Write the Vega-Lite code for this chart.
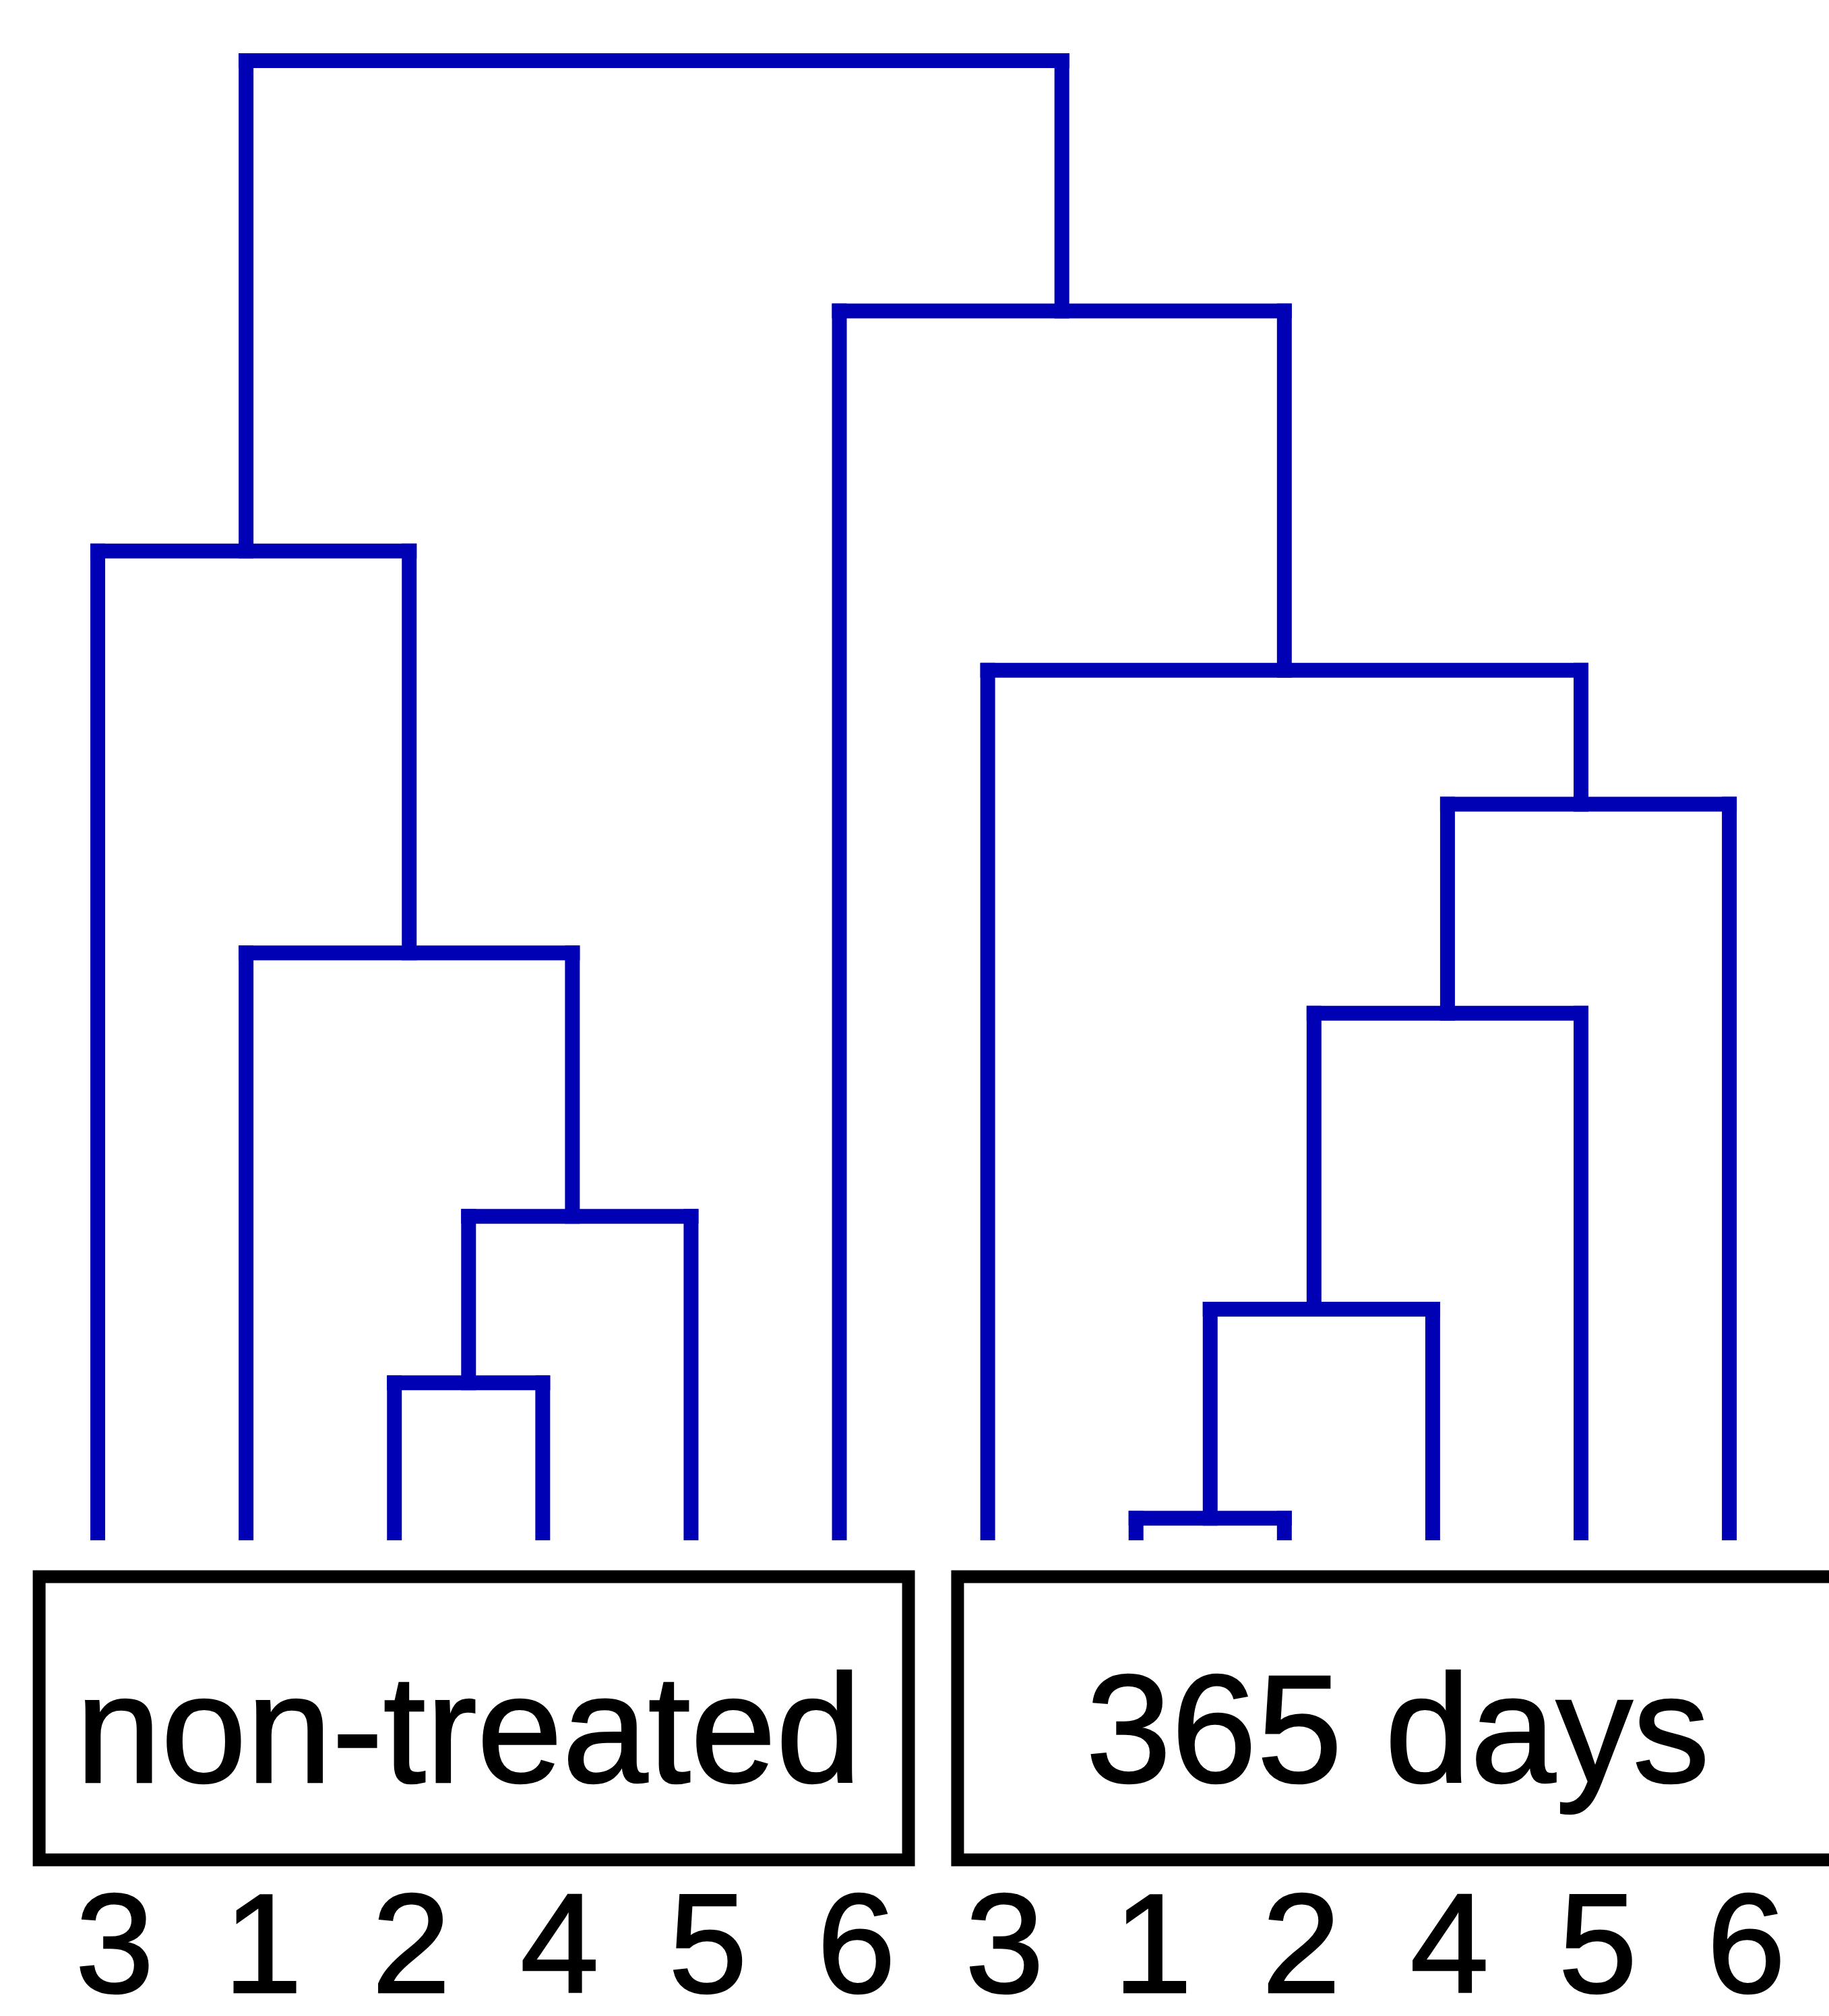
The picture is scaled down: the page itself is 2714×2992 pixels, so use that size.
{
  "$schema": "https://vega.github.io/schema/vega-lite/v6.json",
  "width": 2714,
  "height": 2992,
  "autosize": {"type": "none"},
  "padding": 0,
  "background": "white",
  "config": {"view": {"stroke": null}},
  "datasets": {
    "merges": [
      {"node": "A", "h": 1.02, "lx": 2, "lh": 0, "rx": 3, "rh": 0},
      {"node": "B", "h": 2.15, "lx": 2.5, "lh": 1.02, "rx": 4, "rh": 0},
      {"node": "C", "h": 3.94, "lx": 1, "lh": 0, "rx": 3.2, "rh": 2.15},
      {"node": "D", "h": 6.67, "lx": 0, "lh": 0, "rx": 2.1, "rh": 3.94},
      {"node": "E", "h": 0.10, "lx": 7, "lh": 0, "rx": 8, "rh": 0},
      {"node": "F", "h": 1.52, "lx": 7.5, "lh": 0.10, "rx": 9, "rh": 0},
      {"node": "G", "h": 3.53, "lx": 8.2, "lh": 1.52, "rx": 10, "rh": 0},
      {"node": "H", "h": 4.95, "lx": 9.1, "lh": 3.53, "rx": 11, "rh": 0},
      {"node": "I", "h": 5.86, "lx": 6, "lh": 0, "rx": 10.0, "rh": 4.95},
      {"node": "J", "h": 8.30, "lx": 5, "lh": 0, "rx": 8.0, "rh": 5.86},
      {"node": "root", "h": 10.0, "lx": 1.0, "lh": 6.67, "rx": 6.5, "rh": 8.30}
    ],
    "leaves": [
      {"pos": 0, "label": "3"}, {"pos": 1, "label": "1"}, {"pos": 2, "label": "2"},
      {"pos": 3, "label": "4"}, {"pos": 4, "label": "5"}, {"pos": 5, "label": "6"},
      {"pos": 6, "label": "3"}, {"pos": 7, "label": "1"}, {"pos": 8, "label": "2"},
      {"pos": 9, "label": "4"}, {"pos": 10, "label": "5"}, {"pos": 11, "label": "6"}
    ],
    "groups": [
      {"group": "non-treated", "start": -0.395, "end": 5.466, "center": 2.5, "top": -0.297, "bottom": -2.22, "base": -1.693},
      {"group": "365 days", "start": 5.797, "end": 12.2, "center": 8.764, "top": -0.297, "bottom": -2.22, "base": -1.693}
    ]
  },
  "layer": [
    {
      "data": {"name": "merges"},
      "mark": {"type": "rule", "color": "#0000b4", "strokeWidth": 22, "strokeCap": "square"},
      "encoding": {
        "x": {"field": "lx", "type": "quantitative", "scale": {"domain": [-0.659, 11.672], "nice": false, "zero": false}, "axis": null},
        "x2": {"field": "rx"},
        "y": {"field": "h", "type": "quantitative", "scale": {"domain": [-3.281, 10.412], "nice": false, "zero": false}, "axis": null}
      }
    },
    {
      "data": {"name": "merges"},
      "mark": {"type": "rule", "color": "#0000b4", "strokeWidth": 22, "strokeCap": "square"},
      "encoding": {
        "x": {"field": "lx", "type": "quantitative", "axis": null},
        "y": {"field": "lh", "type": "quantitative", "axis": null},
        "y2": {"field": "h"}
      }
    },
    {
      "data": {"name": "merges"},
      "mark": {"type": "rule", "color": "#0000b4", "strokeWidth": 22, "strokeCap": "square"},
      "encoding": {
        "x": {"field": "rx", "type": "quantitative", "axis": null},
        "y": {"field": "rh", "type": "quantitative", "axis": null},
        "y2": {"field": "h"}
      }
    },
    {
      "data": {"name": "groups"},
      "mark": {"type": "rect", "fill": null, "fillOpacity": 0, "stroke": "black", "strokeWidth": 19, "strokeJoin": "miter"},
      "encoding": {
        "x": {"field": "start", "type": "quantitative", "axis": null},
        "x2": {"field": "end"},
        "y": {"field": "top", "type": "quantitative", "axis": null},
        "y2": {"field": "bottom"}
      }
    },
    {
      "data": {"name": "groups"},
      "mark": {"type": "text", "font": "Liberation Sans", "fontSize": 228, "color": "black", "stroke": "black", "strokeWidth": 2.5, "align": "center", "baseline": "alphabetic"},
      "encoding": {
        "x": {"field": "center", "type": "quantitative", "axis": null},
        "y": {"field": "base", "type": "quantitative", "axis": null},
        "text": {"field": "group"}
      }
    },
    {
      "data": {"name": "leaves"},
      "mark": {"type": "text", "font": "Liberation Sans", "fontSize": 210, "color": "black", "stroke": "black", "strokeWidth": 2.5, "align": "center", "baseline": "alphabetic", "dx": 25},
      "encoding": {
        "x": {"field": "pos", "type": "quantitative", "axis": null},
        "y": {"datum": -3.12, "type": "quantitative", "axis": null},
        "text": {"field": "label"}
      }
    }
  ]
}
